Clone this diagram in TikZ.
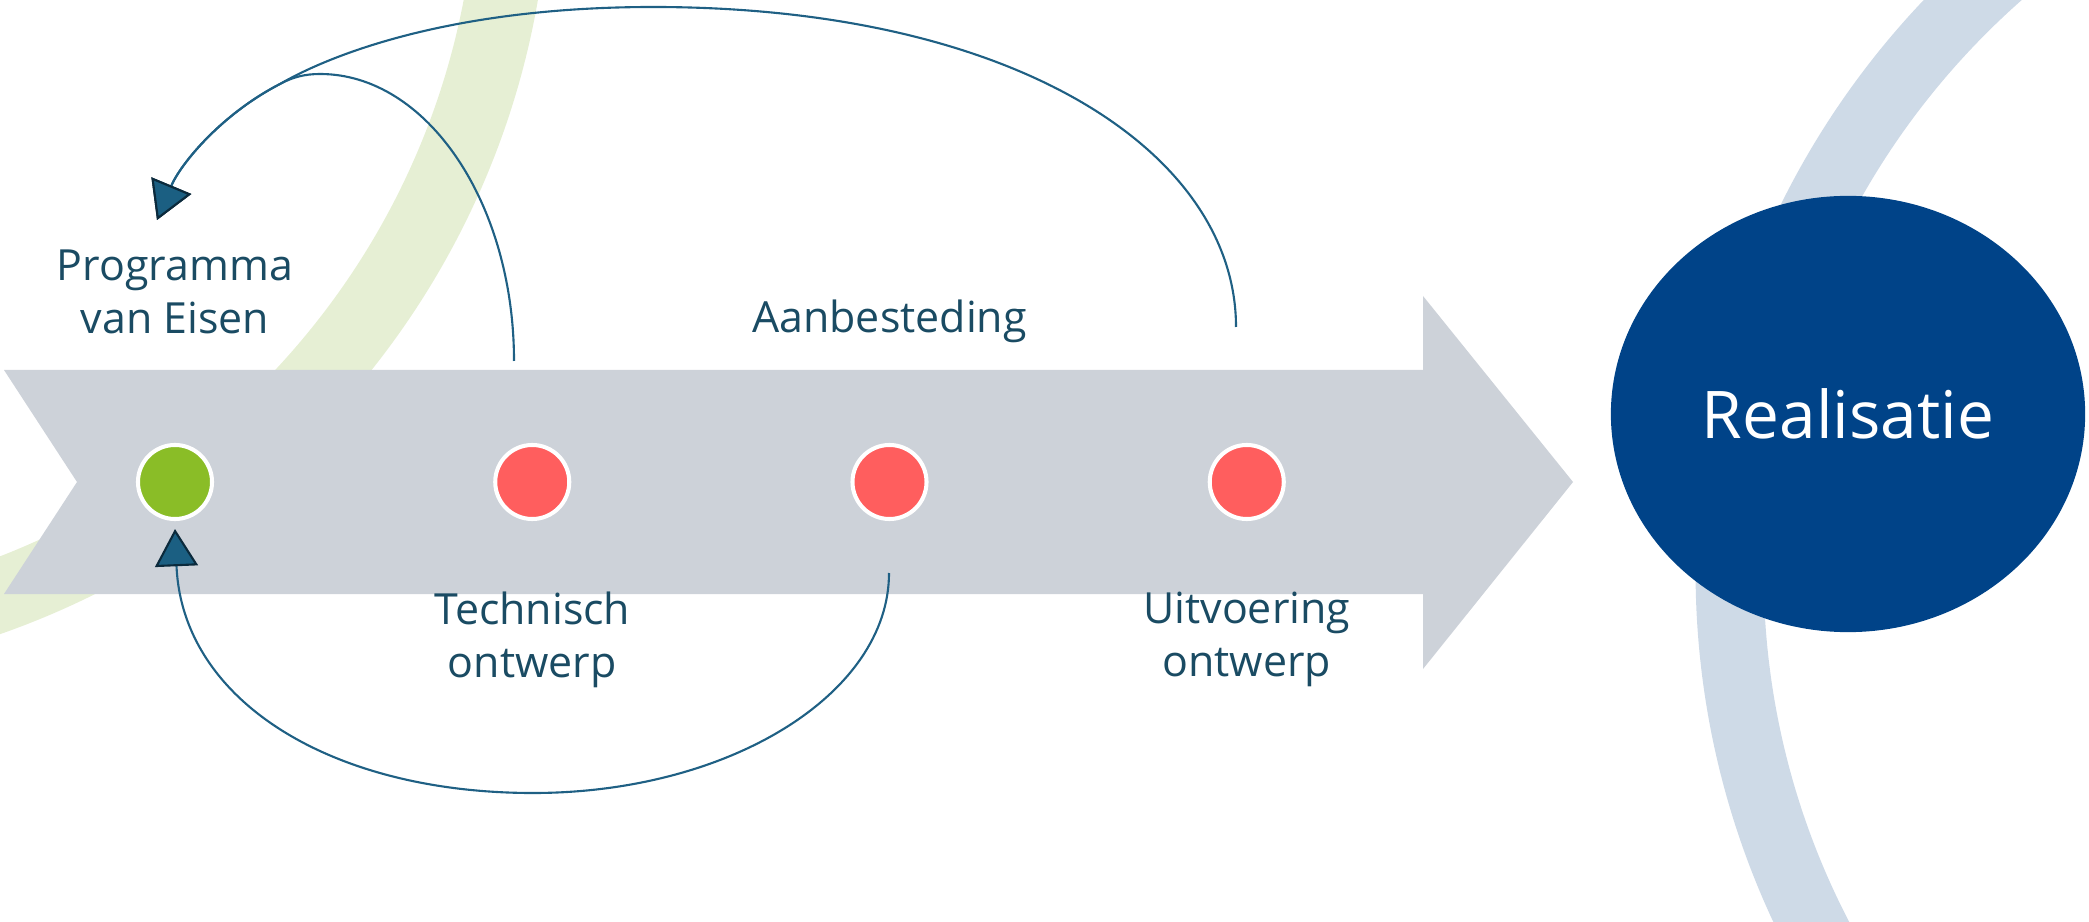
\documentclass[tikz,border=0pt]{standalone}
\usepackage{fontspec}
\setmainfont{Open Sans}
\usetikzlibrary{arrows.meta, positioning, shapes.geometric}
\definecolor{ink}{HTML}{1A4B63}
\definecolor{loopline}{HTML}{1F6084}
\definecolor{tipfill}{HTML}{1B5F82}
\definecolor{tipedge}{HTML}{0B2A3C}
\definecolor{flowgray}{HTML}{CDD2D9}
\definecolor{dotgreen}{HTML}{8ABD27}
\definecolor{dotred}{HTML}{FF5E5E}
\definecolor{realblue}{HTML}{004388}
\definecolor{bandblue}{HTML}{CEDAE7}
\definecolor{bandgreen}{HTML}{E6EFD4}
\tikzset{
  stage/.style={circle,fill=#1,draw=white,line width=1.15pt,minimum size=0.74cm,inner sep=0pt},
  phase/.style={text=ink,align=center,inner sep=0pt,font=\fontsize{12.2}{15.1}\selectfont},
  goal/.style={ellipse,fill=realblue,text=white,inner sep=0pt,minimum width=4.74cm,minimum height=4.36cm,font=\fontsize{18.7}{20}\selectfont},
  band/.style={line width=#1},
  feedback/.style={draw=loopline,line width=0.6pt,-{Triangle[length=10.6pt,width=12.2pt,color=tipedge,fill=tipfill]}},
}
\pgfdeclarelayer{back}
\pgfsetlayers{back,main}

\begin{document}
\begin{tikzpicture}[x=0.01cm,y=-0.01cm]
	\useasboundingbox (0,0) rectangle (2089,922);
	\begin{pgfonlayer}{back}
	    \begin{scope}
	    \clip (0,0) rectangle (2089,922);
	    \draw[band=0.73cm,bandgreen] (-271,-141) circle[radius=7.84cm];
	    \draw[band=0.68cm,bandblue] (2524,571) circle[radius=7.94cm];
	    \end{scope}
	    % time line
	    \fill[flowgray] (4,370) -- (1423,370) -- (1423,296) -- (1573,482) -- (1423,669)
	    	-- (1423,594) -- (4,594) -- (77,482) -- cycle;
	\end{pgfonlayer}
	    \node[stage=dotgreen] (pve) at (175,482) {};
	    \node[stage=dotred,right=2.79cm of pve] (to) {};
	    \node[stage=dotred,right=2.79cm of to] (ab) {};
	    \node[stage=dotred,right=2.79cm of ab] (uo) {};
	    \node[goal] (real) at (1848,414) {Realisatie};
	    \node[phase,above=1.08cm of pve] (pvelabel) {Programma\\van Eisen};
	    \node[phase,above=0.99cm of ab] (ablabel) {Aanbesteding};
	    \node[phase,below=0.7cm of to] (tolabel) {Technisch\\ontwerp};
	    \node[phase,below=0.7cm of uo] (uolabel) {Uitvoering\\ontwerp};
	    % loose ends of the loops
	    \coordinate (tostart) at (514,361);
	    \coordinate (uostart) at (1236,327);
	    \coordinate (abstart) at (889,573);
	    \coordinate (merge) at (280,84);
	    \coordinate (pvetip) at (157,220);
	    \coordinate (pvein) at (175,529);
	    \draw[feedback] (tostart) .. controls (514,203) and (427,74) .. (320,74)
	    	.. controls (305,74) and (293,77) .. (merge) .. controls (220,115) and (180,165) .. (pvetip);
	    \draw[feedback] (uostart) .. controls (1236,155) and (1020,7) .. (653,7)
	    	.. controls (450,7) and (330,55) .. (merge) .. controls (220,115) and (180,165) .. (pvetip);
	    \draw[feedback] (abstart) .. controls (889,694) and (729,793) .. (533,793)
	    	.. controls (330,793) and (182,700) .. (pvein);
\end{tikzpicture}
\end{document}
